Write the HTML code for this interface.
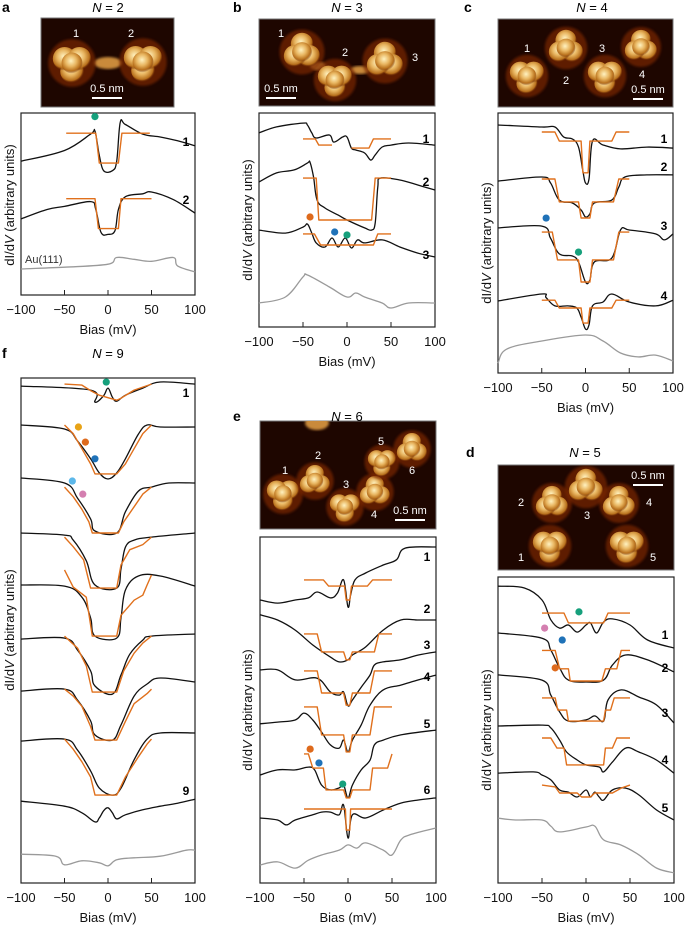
<!DOCTYPE html>
<html><head><meta charset="utf-8">
<style>
html,body{margin:0;padding:0;background:#fff;}
svg{display:block;font-family:"Liberation Sans",Arial,sans-serif;}
.tick{font-size:13px;fill:#111;text-anchor:middle;}
.axt{font-size:13px;fill:#111;text-anchor:middle;}
.plab{font-size:14px;font-weight:bold;fill:#000;}
.ttl{font-size:13px;fill:#000;text-anchor:middle;}
.tn{font-size:12px;font-weight:bold;fill:#000;text-anchor:middle;}
.il{font-size:11px;fill:#fff;text-anchor:middle;}
</style></head>
<body>
<svg id="fig" width="685" height="926" viewBox="0 0 685 926">
<defs>
<radialGradient id="blob" cx="45%" cy="40%" r="60%">
<stop offset="0%" stop-color="#fff2c0"/><stop offset="45%" stop-color="#e8b560"/><stop offset="80%" stop-color="#b8701c"/><stop offset="100%" stop-color="#5a1a00" stop-opacity="0"/>
</radialGradient>
<filter id="soft"><feGaussianBlur stdDeviation="1.2"/></filter>
</defs>
<g id="images"></g>
<g id="plots"></g>
</svg>
<script>
// ---------- DATA ----------
const biasTicks = [-100,-50,0,50,100];
// panel a (N=2)
const a1 = [[-100,73.5],[-50,79.4],[-20,88.4],[-15,90],[-10,76.7],[-5,68.3],[5,68.3],[10,73.5],[14,94.7],[20,93.7],[40,88.4],[60,86.8],[80,84.7],[100,82]];
const a1fit = [[-48,88.9],[-14,88.9],[-10,72.5],[12,72.5],[16,88.9],[48,88.9]];
const a2 = [[-100,41.8],[-70,47],[-50,48.7],[-20,51.3],[-14,47],[-8,34.4],[0,33.3],[8,35.4],[12,47],[20,54],[40,55.6],[50,56.6],[75,52.4],[100,45]];
const a2fit = [[-48,52.9],[-15,52.9],[-11,36.5],[12,36.5],[15,52.9],[50,52.9]];
const aAu = [[-100,14.3],[-50,15.3],[0,16.9],[10,20.6],[30,19.6],[50,18.5],[75,20.6],[80,16],[100,12.7]];
// panel b (N=3)
const b1 = [[-100,90.7],[-80,93.5],[-50,95.3],[-45,94.4],[-40,90.7],[-35,88.3],[-20,89.7],[-15,86.4],[-5,88.8],[0,88.8],[5,83.6],[10,82.7],[20,81.3],[27,78],[32,80.4],[40,84.1],[50,85],[70,86],[100,85]];
const b1fitL = [[-50,87.9],[-36,87.9],[-32,85],[-17,85]];
const b1fitR = [[5,83.6],[25,83.6],[30,87.9],[50,87.9]];
const b2 = [[-100,67.8],[-80,72],[-60,73.4],[-45,76.6],[-42,77],[-38,70],[-34,59.3],[-25,55.6],[-10,52.3],[0,50],[20,46.3],[28,45.3],[32,48.6],[35,65.4],[38,69.6],[60,68.7],[80,66.4],[100,64]];
const b2fit = [[-50,69.6],[-35,69.6],[-32,50],[28,50],[32,69.6],[50,69.6]];
const b3 = [[-100,45.3],[-70,43.9],[-50,46.7],[-45,48.1],[-40,43.9],[-35,39.3],[-25,37.4],[-17,41.6],[-10,37.4],[-2,41.6],[5,36.9],[12,40.7],[20,39.3],[40,40.7],[60,37.4],[80,34.6],[100,32.7]];
const b3fit = [[-50,43.5],[-37,43.5],[-30,38.3],[30,38.3],[35,43.5],[50,43.5]];
const bAu = [[-100,11.2],[-70,14],[-50,23.4],[-45,24.3],[-20,18.7],[0,14],[10,15.9],[20,14],[40,11.2],[50,8.9],[70,11.2],[100,11.2]];
// panel c (N=4)
const c1 = [[-100,95.4],[-50,94.6],[-35,94.6],[-25,90.8],[-15,90],[-8,86.9],[-3,77.7],[0,73.1],[4,74.6],[8,89.2],[20,87.7],[40,86.2],[70,86.9],[100,86.5]];
const c1fit = [[-50,92.7],[-35,92.7],[-30,89.2],[-5,89.2],[-3,77],[3,77],[5,89.2],[30,89.2],[35,92.7],[50,92.7]];
const c2 = [[-100,73.8],[-50,75.4],[-40,73.1],[-30,66.5],[-15,65.4],[-5,62.7],[0,60],[5,61.2],[10,65.4],[30,66.5],[38,71.5],[45,75.4],[70,76.2],[100,76.2]];
const c2fit = [[-50,74.6],[-35,74.6],[-30,65.8],[-8,65.8],[-5,59.6],[5,59.6],[8,65.8],[32,65.8],[38,74.6],[50,74.6]];
const c3 = [[-100,55.8],[-50,56.5],[-40,51.9],[-30,45.8],[-15,45],[-8,42.7],[0,35],[5,35.8],[10,42.7],[30,44.2],[40,55],[50,55],[80,53.5],[90,51.2],[100,53.5]];
const c3fit = [[-50,54.2],[-38,54.2],[-32,43.5],[-8,43.5],[-5,35],[5,35],[8,43.5],[32,43.5],[38,54.2],[50,54.2]];
const c4 = [[-100,27.7],[-50,30.4],[-45,29],[-35,25.8],[-20,25.8],[-10,25],[-5,21.5],[0,16.9],[4,18.5],[8,25.8],[20,27.3],[30,30.4],[50,27.3],[80,25.8],[100,28]];
const c4fit = [[-50,28],[-35,28],[-30,25],[-5,25],[-3,19.2],[3,19.2],[5,25],[30,25],[35,28],[50,28]];
const cAu = [[-100,3.8],[-90,9.2],[-50,12.3],[0,14.6],[20,12.3],[40,7.7],[60,6.2],[80,6.9],[100,4.6]];
// panel d (N=5)
const d1 = [[-100,97],[-70,96.4],[-50,92.5],[-40,86],[-30,83.3],[-20,84.3],[-10,82],[0,84.3],[5,85],[12,81.7],[20,85.3],[30,86.3],[50,84.3],[70,79.4],[100,76.8]];
const d1fit = [[-50,88.2],[-25,88.2],[-20,85],[20,85],[25,88.2],[50,88.2]];
const d2 = [[-100,81.7],[-50,80],[-40,76.1],[-30,70.3],[-20,66.3],[0,65.7],[20,66.3],[30,71.2],[45,74.5],[70,72.9],[100,69]];
const d2fit = [[-50,76],[-35,76],[-30,70],[-20,70],[-18,66],[18,66],[22,70],[35,70],[40,76],[50,76]];
const d3 = [[-100,68],[-50,66.3],[-40,61.4],[-30,55.9],[-20,52.9],[0,53.3],[10,54.6],[20,52.9],[25,59.8],[40,63.1],[60,60.8],[80,58.2],[100,52.3]];
const d3fit = [[-50,60.5],[-35,60.5],[-32,56.5],[-22,56.5],[-20,52.9],[20,52.9],[22,56.5],[28,56.5],[32,60.5],[50,60.5]];
const d4 = [[-100,51.3],[-50,51.6],[-40,50.7],[-30,46.7],[-22,42.8],[-10,40.2],[0,38.6],[15,37.9],[20,36.3],[30,39.5],[45,44.1],[60,42.8],[80,40.2],[100,35.9]];
const d4fit = [[-50,47.4],[-40,47.4],[-33,44.1],[-25,44.1],[-22,38.6],[20,38.6],[22,44.1],[30,44.1],[35,47.4],[50,47.4]];
const d5 = [[-100,35.9],[-60,36.3],[-50,35.3],[-40,33.7],[-30,30.4],[-20,29.7],[-10,28.1],[0,30.4],[5,28.1],[10,29.7],[15,28.1],[20,27.1],[30,30.4],[45,31],[60,28.8],[80,23.9],[100,20.6]];
const d5fit = [[-50,32],[-35,31.4],[-30,29.4],[-10,29.4],[-5,28.1],[5,28.1],[10,29.4],[30,29.4],[40,31],[50,32]];
const dAu = [[-100,21.2],[-80,20.6],[-50,20.6],[-40,18.6],[-30,16.7],[0,18.3],[10,18.6],[20,14.1],[40,12.4],[60,9.2],[80,4.9],[100,3.3]];
// panel e (N=6)
const e1 = [[-100,81.8],[-80,80.9],[-60,81.8],[-45,82.4],[-35,84.1],[-20,82.4],[-12,83.8],[-5,87.6],[0,79.8],[3,83.2],[8,87.6],[20,89.6],[40,91.9],[55,93.4],[65,96.8],[100,97.1]];
const e1fit = [[-50,87.6],[-28,87.6],[-22,85.8],[-4,85.8],[-2,81.8],[2,81.8],[4,85.8],[22,85.8],[28,87.6],[50,87.6]];
const e2 = [[-100,77.5],[-80,76],[-60,73.1],[-40,68.8],[-20,65.3],[-10,63.9],[0,64.5],[5,65.9],[20,68.2],[40,73.1],[60,76],[80,76],[100,76]];
const e2fit = [[-50,72],[-35,72],[-30,66.8],[-5,66.8],[-2,64.5],[2,64.5],[5,66.8],[30,66.8],[35,72],[50,72]];
const e3 = [[-100,61.6],[-80,61.6],[-60,58.7],[-35,59.2],[-20,55.2],[-10,54.3],[-5,55.2],[0,51.2],[5,52.9],[15,56.6],[25,60.1],[30,63],[40,63.9],[60,64.5],[80,65.9],[100,66.8]];
const e3fit = [[-50,61.3],[-35,61.3],[-30,54.9],[-5,54.9],[-2,51.4],[2,51.4],[5,54.9],[25,54.9],[30,61.3],[50,61.3]];
const e4 = [[-100,46],[-80,46.5],[-60,47.1],[-50,49.1],[-40,47.1],[-30,43.6],[-20,39.9],[-10,39],[-5,41.3],[0,37.9],[5,41.3],[15,45.7],[25,51.4],[40,55.8],[60,57.2],[80,58.7],[100,60.1]];
const e4fit = [[-50,50.9],[-35,50.9],[-30,42.8],[-5,42.8],[-2,37.9],[2,37.9],[5,42.8],[25,42.8],[30,50.9],[50,50.9]];
const e5 = [[-100,31.2],[-80,32.7],[-60,32.7],[-45,33.5],[-38,32.7],[-30,28.3],[-20,26.9],[-10,27.5],[-5,28.3],[0,24.6],[5,28.3],[15,32.7],[25,35.5],[30,39.9],[40,41.3],[60,42.8],[100,44.2]];
const e5fit = [[-50,37.3],[-45,37.3],[-40,33.2],[-28,33.2],[-25,26.9],[-5,26.9],[-2,24.6],[2,24.6],[5,26.9],[25,26.9],[28,33.2],[45,33.2],[50,37.3]];
const e6 = [[-100,18.8],[-80,18.2],[-70,16.8],[-60,18.2],[-40,19.7],[-30,20.5],[-20,20.5],[-10,19.7],[-5,22.5],[0,13],[5,19.7],[20,18.8],[40,21.1],[60,23.1],[80,24],[100,24.6]];
const e6fit = [[-50,21.4],[-3,21.4],[-2,15.3],[2,15.3],[3,21.4],[50,21.4]];
const eAu = [[-100,5.2],[-80,6.1],[-60,4.3],[-45,6.6],[-30,8.1],[-10,9.5],[0,11],[10,10.1],[20,11.6],[40,9.5],[50,8.1],[60,12.4],[70,13.9],[100,15.9]];
// panel f (N=9)
const f1 = [[-100,98.4],[-20,97.6],[-15,95.2],[-5,96.5],[0,98],[5,96.2],[10,95.4],[20,96.6],[40,98],[60,99.2],[100,98.8]];
const f1fit = [[-50,98.8],[-30,98.6],[-20,97.5],[-10,96.6],[10,95.6],[15,96],[30,97.6],[50,98.8]];
const f2 = [[-100,90.7],[-50,89.9],[-35,87.5],[-20,84],[-10,81.2],[0,80],[10,81.2],[20,84],[35,88.9],[45,90.7],[60,90.3],[100,90.3]];
const f2fit = [[-50,90.7],[-40,89],[-30,86],[-20,83],[-15,81],[10,81],[20,83],[30,86],[40,89],[50,90.7]];
const f3 = [[-100,80.2],[-50,79.2],[-35,76.2],[-20,72.1],[-15,69.7],[10,69.3],[20,73.5],[35,77.6],[50,78.4],[70,79.2],[100,79.2]];
const f3fit = [[-50,78.4],[-40,76.5],[-30,74],[-22,71.5],[-18,69.3],[12,69.3],[18,71.5],[30,74.5],[40,77],[50,78.4]];
const f4 = [[-100,69.3],[-50,68.9],[-40,67.9],[-25,63.8],[-15,59],[10,58.4],[15,62.2],[20,66.5],[30,67.9],[50,68.5],[100,69.3]];
const f4fit = [[-50,68.5],[-40,66.6],[-28,64],[-20,58.4],[10,58.4],[15,63],[25,66],[40,67],[50,68.5]];
const f5 = [[-100,59],[-50,58.8],[-30,56.6],[-20,52.5],[-15,48.9],[10,48.5],[15,52.5],[20,58],[35,60.8],[60,60.8],[100,58.8]];
const f5fit = [[-50,62],[-40,58.6],[-25,56.6],[-18,48.9],[10,48.9],[15,53],[30,56],[40,57],[45,59],[50,61]];
const f6 = [[-100,48.3],[-50,48.5],[-35,46.1],[-20,42],[-15,39],[5,37.4],[15,41.2],[25,45.3],[40,48.1],[50,48.9],[100,49.3]];
const f6fit = [[-50,48.9],[-35,46.5],[-25,43],[-18,37.8],[10,37.8],[18,42],[30,45.5],[40,47.5],[50,48.9]];
const f7 = [[-100,38],[-50,38.4],[-35,36.2],[-20,32.1],[-15,29.3],[5,28.3],[15,31.3],[30,37],[45,39.4],[60,40.6],[100,39.8]];
const f7fit = [[-50,38.4],[-40,37],[-30,35],[-20,31],[-15,28.3],[10,28.3],[20,32],[30,35.5],[45,37.5],[50,38.4]];
const f8 = [[-100,28.1],[-50,28.5],[-35,26.3],[-20,22.2],[-10,18.8],[5,17.4],[15,18.8],[30,24.4],[45,28.5],[60,29.7],[100,29.7]];
const f8fit = [[-50,28.5],[-40,26.5],[-30,24],[-20,21],[-15,17.4],[10,17.4],[20,21],[35,25],[45,27.5],[50,28.5]];
const f9 = [[-100,16.2],[-50,15.2],[-30,13.9],[-15,12.1],[-10,12.9],[-5,14.3],[0,14.9],[5,13.9],[10,12.7],[20,13.5],[40,14.5],[60,15.2],[80,15.8],[100,16.6]];
const fAu = [[-100,5.7],[-60,5.3],[-50,3.6],[-30,4.4],[-10,4],[0,3.4],[10,4.6],[30,5],[60,5.3],[90,6.5],[100,6.5]];
// marker dots [bias, value, colour]
const aDots = [[-15,98,'#16a07c']];
const bDots = [[-42,51.4,'#de6a1c'],[-14,44.4,'#1f72b8'],[0,43,'#16a07c']];
const cDots = [[-45,59.6,'#1f72b8'],[-8,46.5,'#16a07c']];
const dDots = [[-8,88.6,'#16a07c'],[-47,83.3,'#d47fb0'],[-27,79.4,'#1f72b8'],[-35,70.3,'#de6a1c']];
const eDots = [[-43,38.7,'#de6a1c'],[-33,34.7,'#1f72b8'],[-6,28.6,'#16a07c']];
const fDots = [[-2,99.2,'#16a07c'],[-34,90.3,'#e8a317'],[-26,87.3,'#de6a1c'],[-15,84,'#1f72b8'],[-41,79.6,'#5db8ea'],[-29,77,'#d47fb0']];

// ---------- DRAW ----------
const NS='http://www.w3.org/2000/svg';
const plots=document.getElementById('plots');
function mk(tag,attrs,parent){const e=document.createElementNS(NS,tag);for(const k in attrs)e.setAttribute(k,attrs[k]);(parent||plots).appendChild(e);return e;}
function smoothPath(pts){
  let d='M'+pts[0][0].toFixed(1)+' '+pts[0][1].toFixed(1);
  for(let i=0;i<pts.length-1;i++){
    const p0=pts[Math.max(0,i-1)],p1=pts[i],p2=pts[i+1],p3=pts[Math.min(pts.length-1,i+2)];
    const t=0.18;
    const c1x=p1[0]+(p2[0]-p0[0])*t,c1y=p1[1]+(p2[1]-p0[1])*t;
    const c2x=p2[0]-(p3[0]-p1[0])*t,c2y=p2[1]-(p3[1]-p1[1])*t;
    d+=' C'+c1x.toFixed(1)+' '+c1y.toFixed(1)+' '+c2x.toFixed(1)+' '+c2y.toFixed(1)+' '+p2[0].toFixed(1)+' '+p2[1].toFixed(1);
  }
  return d;
}
function panel(p){
  const g=mk('g',{});
  
  
  const xs=b=>p.x0+(b+100)/200*(p.x1-p.x0);
  const ys=v=>p.y1-v/100*(p.y1-p.y0);
  const fr=mk('rect',{x:p.x0,y:p.y0,width:p.x1-p.x0,height:p.y1-p.y0,fill:'none',stroke:'#222','stroke-width':1.2},g);
  
  
  biasTicks.forEach(t=>{
    const tx=xs(t);
    if(t>-100&&t<100){const tk=mk('line',{x1:tx,x2:tx,y1:p.y1,y2:p.y1-5,stroke:'#222','stroke-width':1},g);
      
      }
    const tl=mk('text',{x:tx,y:p.y1+19,class:'tick'},g);
    tl.textContent=(t<0?'\u2212'+(-t):String(t));
    
    
  });
  const xt=mk('text',{x:(p.x0+p.x1)/2,y:p.y1+39,class:'axt'},g);
  xt.textContent='Bias (mV)';
  
  
  const yc=p.ylabY;
  const yt=mk('text',{x:p.ylabX,y:yc,class:'axt',transform:'rotate(-90 '+p.ylabX+' '+yc+')'},g);
  yt.innerHTML='dI/d<tspan font-style="italic">V</tspan> (arbitrary units)';
  
  
  const pl=mk('text',{x:p.lx,y:p.ly,class:'plab'},g);
  pl.textContent=p.id;
  
  
  const ti=mk('text',{x:p.tx,y:p.ly,class:'ttl'},g);
  ti.innerHTML='<tspan font-style="italic">N</tspan> = '+p.n;
  
  
  p.series.forEach(s=>{
    const pts=s.data.map(q=>[xs(q[0]),ys(q[1])]);
    const d=s.kind==='fit'?pts.map((q,i)=>(i?'L':'M')+q[0].toFixed(1)+' '+q[1].toFixed(1)).join(' '):smoothPath(pts);
    const col=s.kind==='fit'?'#e0701c':(s.kind==='au'?'#9a9a9a':'#111');
    const path=mk('path',{d:d,fill:'none',stroke:col,'stroke-width':s.kind==='fit'?1.4:1.3,'stroke-linejoin':'round'},g);
    
    
  });
  p.labels.forEach(l=>{
    const t=mk('text',{x:p.x1-9,y:l[1],class:'tn'},g);
    t.textContent=l[0];
    
    
  });
  p.dots.forEach(q=>{
    const c=mk('circle',{cx:xs(q[0]),cy:ys(q[1]),r:3.6,fill:q[2]},g);
    
    
  });
  if(p.au){const t=mk('text',{x:p.au[0],y:p.au[1],style:'font-size:11px;fill:#333'},g);t.textContent='Au(111)';
    
    }
}
const T=(n,d)=>({name:n,data:d,kind:'exp'}), F=(n,d)=>({name:n,data:d,kind:'fit'}), A=(n,d)=>({name:n,data:d,kind:'au'});
panel({id:'a',n:2,x0:21,x1:195,y0:113,y1:295,lx:2,ly:12,tx:108,ylabX:14,ylabY:205,
  series:[T('trace-1',a1),F('fit-1',a1fit),T('trace-2',a2),F('fit-2',a2fit),A('au-reference',aAu)],
  labels:[['1',146],['2',204]],dots:aDots,au:[25,263]});
panel({id:'b',n:3,x0:259,x1:435,y0:113,y1:327,lx:233,ly:12,tx:347,ylabX:252,ylabY:220,
  series:[T('trace-1',b1),F('fit-1-left',b1fitL),F('fit-1-right',b1fitR),T('trace-2',b2),F('fit-2',b2fit),T('trace-3',b3),F('fit-3',b3fit),A('au-reference',bAu)],
  labels:[['1',143],['2',186],['3',259]],dots:bDots});
panel({id:'c',n:4,x0:498,x1:673,y0:113,y1:373,lx:464,ly:12,tx:592,ylabX:491,ylabY:243,
  series:[T('trace-1',c1),F('fit-1',c1fit),T('trace-2',c2),F('fit-2',c2fit),T('trace-3',c3),F('fit-3',c3fit),T('trace-4',c4),F('fit-4',c4fit),A('au-reference',cAu)],
  labels:[['1',143],['2',171],['3',230],['4',300]],dots:cDots});
panel({id:'f',n:9,x0:21,x1:195,y0:378,y1:883,lx:2,ly:358,tx:108,ylabX:14,ylabY:630,
  series:[T('trace-1',f1),F('fit-1',f1fit),T('trace-2',f2),F('fit-2',f2fit),T('trace-3',f3),F('fit-3',f3fit),T('trace-4',f4),F('fit-4',f4fit),T('trace-5',f5),F('fit-5',f5fit),T('trace-6',f6),F('fit-6',f6fit),T('trace-7',f7),F('fit-7',f7fit),T('trace-8',f8),F('fit-8',f8fit),T('trace-9',f9),A('au-reference',fAu)],
  labels:[['1',397],['9',795]],dots:fDots});
panel({id:'e',n:6,x0:260,x1:436,y0:537,y1:883,lx:233,ly:421,tx:347,ylabX:252,ylabY:710,
  series:[T('trace-1',e1),F('fit-1',e1fit),T('trace-2',e2),F('fit-2',e2fit),T('trace-3',e3),F('fit-3',e3fit),T('trace-4',e4),F('fit-4',e4fit),T('trace-5',e5),F('fit-5',e5fit),T('trace-6',e6),F('fit-6',e6fit),A('au-reference',eAu)],
  labels:[['1',561],['2',613],['3',649],['4',681],['5',728],['6',794]],dots:eDots});
panel({id:'d',n:5,x0:498,x1:674,y0:577,y1:883,lx:466,ly:457,tx:585,ylabX:491,ylabY:730,
  series:[T('trace-1',d1),F('fit-1',d1fit),T('trace-2',d2),F('fit-2',d2fit),T('trace-3',d3),F('fit-3',d3fit),T('trace-4',d4),F('fit-4',d4fit),T('trace-5',d5),F('fit-5',d5fit),A('au-reference',dAu)],
  labels:[['1',639],['2',672],['3',717],['4',764],['5',812]],dots:dDots});

// ---------- STM IMAGES ----------
const imgs=document.getElementById('images');
function stm(id,x,y,w,h,tris,labels,bar,necks){
  const g=mk('g',{},imgs);
  
  
  mk('rect',{x:x,y:y,width:w,height:h,fill:'#1e0600',stroke:'#777','stroke-width':1},g);
  const cp=mk('clipPath',{id:'cp'+id},g);mk('rect',{x:x,y:y,width:w,height:h},cp);
  const inner=mk('g',{'clip-path':'url(#cp'+id+')'},g);
  (necks||[]).forEach(n=>{mk('ellipse',{cx:n[0],cy:n[1],rx:n[2],ry:n[3],fill:'#c98a3a',filter:'url(#soft)'},inner);});
  tris.forEach(t=>{
    const [cx,cy,r,rot]=t;
    mk('circle',{cx:cx,cy:cy,r:r*1.25,fill:'#7a2800',opacity:0.7,filter:'url(#soft)'},inner);
    for(let k=0;k<3;k++){const an=(rot+k*120)*Math.PI/180;
      mk('circle',{cx:cx+Math.cos(an)*r*0.45,cy:cy+Math.sin(an)*r*0.45,r:r*0.62,fill:'url(#blob)'},inner);}
    mk('circle',{cx:cx,cy:cy,r:r*0.55,fill:'url(#blob)'},inner);
  });
  labels.forEach(l=>{const t=mk('text',{x:l[1],y:l[2],class:'il'},g);t.textContent=l[0];
    
    });
  const bt=mk('text',{x:bar[0],y:bar[1],class:'il'},g);bt.textContent='0.5 nm';
  
  
  mk('line',{x1:bar[0]-15,x2:bar[0]+15,y1:bar[1]+6,y2:bar[1]+6,stroke:'#fff','stroke-width':2},g);
}
stm('a',41,18,133,89,[[72,63,19,90],[143,62,19,90]],[['1',76,37],['2',131,37]],[107,92],[[108,63,14,6]]);
stm('b',259,19,176,87,[[302,52,18,-90],[335,80,17,90],[385,61,18,-90]],[['1',281,37],['2',345,56],['3',415,61]],[281,92],[[318,66,8,4],[360,70,10,4]]);
stm('c',498,19,175,88,[[527,76,17,90],[566,48,17,-90],[605,76,17,90],[641,47,16,-90]],[['1',527,52],['3',602,52],['2',566,84],['4',642,78]],[648,93]);
stm('e',260,421,176,108,[[283,494,16,-30],[315,481,15,-90],[345,507,15,-150],[375,492,15,-90],[382,462,14,90],[412,449,15,-90]],[['1',285,474],['2',318,459],['3',346,488],['4',374,518],['5',381,445],['6',412,474]],[410,514],[[317,423,12,7]]);
stm('d',498,465,176,105,[[550,546,17,90],[552,503,16,-90],[586,487,17,-90],[619,503,16,-90],[627,546,17,90]],[['2',521,506],['3',587,519],['4',649,506],['1',521,561],['5',653,561]],[648,479]);
</script>
</body></html>
